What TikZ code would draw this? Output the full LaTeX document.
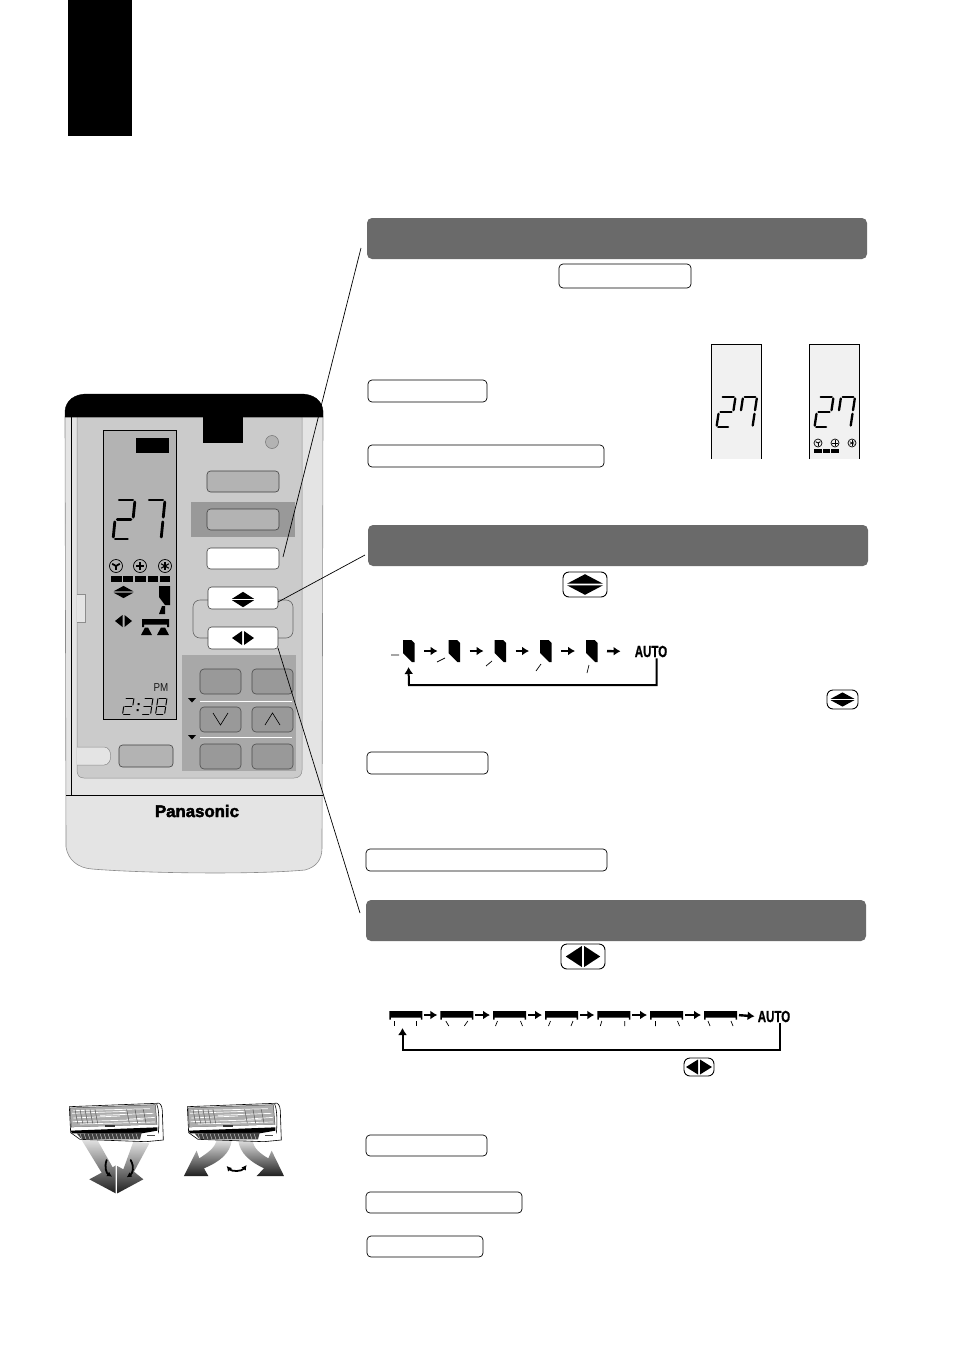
\documentclass[tikz,border=0pt]{standalone}
\usepackage{fontspec}
\usepackage{graphicx}
\setmainfont{Liberation Sans}
\newfontface\heavyf{Liberation Sans Bold}[FakeBold=1.2]
\newfontface\brandf{Liberation Sans Bold}[FakeBold=2.6]
\usetikzlibrary{arrows.meta,calc}
\definecolor{bodyc}{HTML}{E4E4E4}
\definecolor{panelc}{HTML}{CBCBCB}
\definecolor{lcdc}{HTML}{B3B3B3}
\definecolor{hic}{HTML}{999999}
\definecolor{padc}{HTML}{A8A8A8}
\definecolor{barc}{HTML}{6A6A6A}
\definecolor{dispc}{HTML}{F1F1F1}
\tikzset{
  bxbase/.style={inner sep=0pt,outer sep=0pt,rectangle},
  secbar/.style={bxbase,fill=barc,rounded corners=5pt},
  lab/.style={bxbase,fill=white,draw=black,line width=.7pt,rounded corners=4pt},
  iconbtn/.style={bxbase,fill=white,draw=black,line width=.9pt,rounded corners=6pt},
  btngray/.style={bxbase,fill=lcdc,draw=black!75,line width=.6pt,rounded corners=3.5pt},
  btnwhite/.style={bxbase,fill=white,draw=black!75,line width=.6pt,rounded corners=3.5pt},
  btndark/.style={bxbase,fill=hic,draw=black!70,line width=.6pt,rounded corners=4pt},
  leader/.style={draw=black,line width=.7pt},
  flow/.style={draw=black,line width=2.4pt,-{Latex[length=7pt,width=9pt]}},
  ret/.style={draw=black,line width=2pt,-{Latex[length=7pt,width=9pt]}},
  dseg/.style={line width=\digT,line cap=round,draw=black},
  autotxt/.style={inner sep=0pt,font=\heavyf\fontsize{16}{16}\selectfont},
  shadeair/.style={top color=black!12,bottom color=black!88,draw=none},
  swing/.style={black,line width=1.8pt,line cap=round},
}
\newcommand\bx[6]{%
  \pgfmathsetmacro\bxcx{(#3+#5)/2}\pgfmathsetmacro\bxcy{(#4+#6)/2}%
  \pgfmathsetmacro\bxw{#5-#3}\pgfmathsetmacro\bxh{#6-#4}%
  \node[#1,minimum width=\bxw,minimum height=\bxh] (#2) at (\bxcx,\bxcy) {};}
\def\digT{2pt}\def\digW{10}\def\digH{20}
\newcommand\sega{\draw[dseg] ({.12*\digW},0) -- ({.88*\digW},0);}
\newcommand\segb{\draw[dseg] (\digW,{.05*\digH}) -- (\digW,{.44*\digH});}
\newcommand\segc{\draw[dseg] (\digW,{.56*\digH}) -- (\digW,{.95*\digH});}
\newcommand\segd{\draw[dseg] ({.12*\digW},\digH) -- ({.8*\digW},\digH);}
\newcommand\sege{\draw[dseg] (0,{.56*\digH}) -- (0,{.95*\digH});}
\newcommand\segf{\draw[dseg] (0,{.05*\digH}) -- (0,{.44*\digH});}
\newcommand\segg{\draw[dseg] ({.12*\digW},{.5*\digH}) -- ({.88*\digW},{.5*\digH});}
% x y w h slant thick segs
\newcommand\dig[7]{\begin{scope}[shift={(#1,#2)},xslant=#5]\def\digW{#3}\def\digH{#4}\def\digT{#6}#7\end{scope}}
\newcommand\udicon[5]{% cx cy halfw h gap
  \fill (#1-#3,#2-#5) -- (#1+#3,#2-#5) -- (#1,#2-#5-#4) -- cycle;
  \fill (#1-#3,#2+#5) -- (#1+#3,#2+#5) -- (#1,#2+#5+#4) -- cycle;}
\newcommand\lricon[5]{% cx cy halfh w gap
  \fill (#1-#5,#2-#3) -- (#1-#5,#2+#3) -- (#1-#5-#4,#2) -- cycle;
  \fill (#1+#5,#2-#3) -- (#1+#5,#2+#3) -- (#1+#5+#4,#2) -- cycle;}
\newcommand\fanicon[5]{% x y r n bladewidth
  \draw[line width=.7pt] (#1,#2) circle (#3);
  \foreach \a in {1,...,#4}{\draw[line width=#5] (#1,#2) -- ++({90+360*\a/#4}:{.68*#3});}}
\newcommand\vane[3]{% name x y (top-left)
  \node[bxbase,minimum width=11,minimum height=22] (#1) at (#2+5.5,#3+11) {};
  \fill[shift={(#2,#3)}] (0,0) -- (8.5,0) -- (11.5,3) -- (11.5,22) -- (9,22) -- (0,13) -- cycle;}
\newcommand\hvane[7]{% name x y then leg offsets: a1 a2 b1 b2 (top bottom)
  \node[bxbase,minimum width=33,minimum height=8] (#1) at (#2+16.5,#3+4) {};
  \fill[shift={(#2,#3)}] (0,0) rectangle (33,6.5) (0,6.5) rectangle (1.5,8.5) (31.5,6.5) rectangle (33,8.5);
  \draw[shift={(#2,#3)},line width=.7pt] (#4,10) -- (#5,15) (#6,10) -- (#7,15);}
\newcommand\acunit{%
  \filldraw[fill=white,draw=black,line width=.6pt] (28,50) -- (288,40) .. controls (300,36) and (306,45) .. (307,62) -- (310,150) -- (258,155) -- (60,148) -- (32,128) -- cycle;
  \filldraw[fill=black!32,draw=black!70,line width=.5pt] (30,54) -- (286,44) -- (291,104) -- (34,112) -- cycle;
  \foreach \yy/\xa/\xb in {62/40/270,70/36/200,76/120/280,84/40/180,88/200/285,95/38/250,102/60/285}{
    \draw[white,line width=.7pt] (\xa,\yy) -- (\xb,\yy-6);}
  \foreach \xx in {45,60,75,90,105,200,225,250}{\draw[black!65,line width=.5pt] (\xx,58) -- (\xx+8,100);}
  \fill[white] (34,112) -- (291,104) -- (292,112) -- (34,120) -- cycle;
  \fill[black] (32,122) -- (292,112) -- (292,122) -- (245,130) -- (36,130) -- cycle;
  \fill[black!80] (135,106) rectangle (165,110);
  \fill[black!75] (50,130) -- (245,128) -- (240,148) -- (65,148) -- cycle;
  \foreach \xx in {60,72,...,235}{\draw[white,line width=.3pt] (\xx,131) -- (\xx+6,147);}
  \draw[black,line width=.6pt] (290,42) .. controls (298,60) and (298,100) .. (295,130);
  \fill[black!70] (262,136) rectangle (285,139);}
\begin{document}
\begin{tikzpicture}[x=1pt,y=-1pt]
\useasboundingbox (0,0) rectangle (954,1351);
\fill[white] (0,0) rectangle (954,1351);
% tab
\bx{bxbase,fill=black}{tab}{68}{0}{132}{136}
% ---------- remote
\filldraw[fill=bodyc,draw=black!45,line width=.6pt] (65,417) -- (66,847) .. controls (68,860) and (78,868) .. (92,869) .. controls (140,873) and (250,875) .. (305,870) .. controls (316,867) and (322,860) .. (322,848) -- (323,417) -- cycle;
\filldraw[fill=panelc,draw=black!45,line width=.5pt] (77,417) -- (77,770) .. controls (77,775) and (79,778) .. (84,778) -- (294,778) .. controls (299,778) and (302,775) .. (302,770) -- (302,417) -- cycle;
\filldraw[fill=black] (65,417) -- (65,411) .. controls (66,400) and (75,394) .. (87,394) -- (301,394) .. controls (313,394) and (322,400) .. (323,411) -- (323,417) -- cycle;
\draw[black,line width=.8pt] (71.5,417) -- (71.5,795);
\draw[black,line width=.8pt] (66,795) -- (323,795);
\filldraw[fill=bodyc,draw=black!45,line width=.5pt] (77,594) -- (85,594) -- (85,622) -- (77,622);
\filldraw[fill=bodyc,draw=black!45,line width=.5pt] (77,747) -- (104,747) .. controls (113,747) and (113,765) .. (104,765) -- (77,765);
\bx{bxbase,fill=black}{notch}{203}{417}{243}{443}
\filldraw[fill=lcdc,draw=black!55,line width=.5pt] (272,442) circle (6.5);
% LCD
\bx{bxbase,fill=lcdc,draw=black,line width=.8pt}{lcd}{103.5}{430}{176.5}{719}
\bx{bxbase,fill=black}{lcdtag}{136}{438}{169}{453}
\dig{117}{500}{18}{39}{0.1}{2.8pt}{\sega\segb\segg\sege\segd}
\dig{147}{500}{18}{39}{0.1}{2.8pt}{\sega\segb\segc}
\fanicon{116}{566}{6.5}{3}{1.8pt}
\fanicon{140}{566}{6.5}{4}{1.3pt}
\fanicon{165}{566}{6.5}{6}{1.1pt}
\foreach \xa/\xb in {111/122,123/133,135/146,148/158,160/170}{\fill (\xa,576) rectangle (\xb,582);}
\udicon{123.5}{592}{10}{5.5}{.6}
\lricon{123.5}{621}{6}{7.5}{1}
\fill (159,586) -- (170,586) -- (170,605) -- (165,605) -- (159,597) -- cycle;
\fill (159,614) -- (162,606) -- (165,606) -- (165,614) -- cycle;
\fill (142,619) -- (169,619) -- (169,627) -- (167,627) -- (167,624.5) -- (144,624.5) -- (144,627) -- (142,627) -- cycle;
\fill (141,635) -- (152,635) -- (148,627.5) -- (145,627.5) -- cycle;
\fill (157,635) -- (169,635) -- (165,627.5) -- (161,627.5) -- cycle;
\node[inner sep=0pt,font=\fontsize{11.5}{11.5}\selectfont,text=black!90] (pm) at (161,688) {\scalebox{.85}[1]{PM}};
\dig{125}{698}{9}{16}{0.15}{1pt}{\sega\segb\segg\sege\segd}
\fill (137.5,703) rectangle (139.5,705) (136.5,709) rectangle (138.5,711);
\dig{144}{698}{9}{16}{0.15}{1pt}{\sega\segb\segg\segc\segd}
\dig{158}{698}{9}{16}{0.15}{1pt}{\sega\segb\segg\segc\segd\sege\segf}
% buttons
\bx{btngray}{bA}{207}{471}{279}{492}
\bx{bxbase,fill=hic}{bHi}{191}{502}{295}{537}
\bx{btngray}{bB}{207}{509}{279}{530}
\bx{btnwhite}{bC}{207}{548}{279}{569}
\bx{bxbase,draw=black!60,line width=.6pt,rounded corners=7pt}{bGroup}{193}{600}{293}{638}
\bx{btnwhite}{bD}{208}{587}{278}{609}
\bx{btnwhite}{bE}{208}{627}{278}{649}
\udicon{243}{599.5}{11}{7}{.7}
\lricon{243}{638}{7}{10}{1}
% pad
\bx{bxbase,fill=padc}{pad}{182}{655}{296}{771}
\bx{btndark}{p1}{200}{669}{241}{694}
\bx{btndark}{p2}{252}{669}{293}{694}
\bx{btndark}{p3}{200}{707}{241}{732}
\bx{btndark}{p4}{252}{707}{293}{732}
\bx{btndark}{p5}{200}{744}{241}{769}
\bx{btndark}{p6}{252}{744}{293}{769}
\bx{btngray}{p7}{119}{745}{173}{767}
\draw[white,line width=1pt] (200,701) -- (292,701) (200,737) -- (292,737);
\fill (188,698) -- (196,698) -- (192,702.5) -- cycle;
\fill (188,735) -- (196,735) -- (192,739.5) -- cycle;
\draw[line width=.6pt] (213,713) -- (220.5,725) -- (228,713);
\draw[line width=.6pt] (265,725) -- (272.5,713) -- (280,725);
\node[inner sep=0pt,font=\brandf\fontsize{16.8}{16.8}\selectfont] (brand) at (197,811) {Panasonic};
% ---------- section bars
\bx{secbar}{bar1}{367}{218}{867}{259}
\bx{secbar}{bar2}{368}{525}{868}{566}
\bx{secbar}{bar3}{366}{900}{866}{941}
% labels
\bx{lab}{l1}{559}{264}{691}{288}
\bx{lab}{l2}{368}{380}{487}{402}
\bx{lab}{l3}{368}{445}{604}{467}
\bx{lab}{l4}{367}{752}{488}{774}
\bx{lab}{l5}{366}{849}{607}{871}
\bx{lab}{l6}{366}{1135}{487}{1156}
\bx{lab}{l7}{366}{1192}{522}{1213}
\bx{lab}{l8}{367}{1236}{483}{1257}
% icon buttons
\bx{iconbtn}{ib1}{563}{572}{607}{597}
\udicon{585}{584.5}{18}{9.5}{.8}
\bx{iconbtn}{ib2}{827}{690}{858}{709}
\udicon{842.5}{699.5}{12}{6.5}{.6}
\bx{iconbtn}{ib3}{561}{944}{605}{969}
\lricon{583}{956.5}{10.5}{16}{1.2}
\bx{iconbtn}{ib4}{684}{1058}{714}{1076}
\lricon{699}{1067}{7.5}{12}{1}
% displays
\foreach \dx in {0,98}{
  \fill[dispc] (711.5+\dx,344.5) rectangle (761.5+\dx,459);
  \draw[black,line width=1.5pt] (711.5+\dx,459) -- (711.5+\dx,344.5) -- (761.5+\dx,344.5) -- (761.5+\dx,459);
  \dig{721+\dx}{397}{14.5}{30}{0.15}{2.3pt}{\sega\segb\segg\sege\segd}
  \dig{743+\dx}{397}{14}{30}{0.15}{2.3pt}{\sega\segb\segc\segf}
}
\fanicon{818}{443}{4}{3}{.9pt}
\fanicon{835}{443}{4}{4}{.7pt}
\fanicon{852}{443}{4}{6}{.6pt}
\foreach \xa/\xb in {814/822,823/830,831/839}{\fill (\xa,449) rectangle (\xb,453);}
% vertical vanes
\vane{v1}{403}{640}
\vane{v2}{448.5}{640}
\vane{v3}{494.5}{640}
\vane{v4}{540}{640}
\vane{v5}{586}{640}
\node[autotxt] (auto1) at (651,651.5) {\scalebox{.72}[1]{AUTO}};
\draw[flow,shorten >=11pt,shorten <=10pt] (v1.east) -- (v2.west);
\draw[flow,shorten >=11pt,shorten <=10pt] (v2.east) -- (v3.west);
\draw[flow,shorten >=11pt,shorten <=10pt] (v3.east) -- (v4.west);
\draw[flow,shorten >=11pt,shorten <=10pt] (v4.east) -- (v5.west);
\draw[flow,shorten >=14pt,shorten <=10pt] (v5.east) -- (auto1.west);
\draw[line width=.7pt] (391,655) -- (399,655) (437,662) -- (445,658) (486,666) -- (492,661) (536,671) -- (541,664) (587,673) -- (589,665);
\coordinate (r1b) at (409,685);
\draw[ret] ([xshift=5.5pt,yshift=-1pt]auto1.south) |- (r1b) -- ([yshift=-5pt]v1.south);
% horizontal vanes
\hvane{h1}{389.3}{1011}{4.7}{4.7}{27.3}{27.3}
\hvane{h2}{440.3}{1011}{5.5}{8.5}{27.5}{24}
\hvane{h3}{493}{1011}{4.5}{2.5}{27.5}{29.5}
\hvane{h4}{545}{1011}{5.5}{3.5}{28}{26}
\hvane{h5}{597.3}{1011}{4.5}{3}{27.5}{27.5}
\hvane{h6}{650}{1011}{5.5}{5.5}{27.5}{29.5}
\hvane{h7}{704}{1011}{4}{6}{27}{29}
\node[autotxt] (auto2) at (774,1016.5) {\scalebox{.72}[1]{AUTO}};
\draw[flow,shorten >=3pt,shorten <=2pt] (h1.east) -- (h2.west);
\draw[flow,shorten >=3pt,shorten <=2pt] (h2.east) -- (h3.west);
\draw[flow,shorten >=3pt,shorten <=2pt] (h3.east) -- (h4.west);
\draw[flow,shorten >=3pt,shorten <=2pt] (h4.east) -- (h5.west);
\draw[flow,shorten >=3pt,shorten <=2pt] (h5.east) -- (h6.west);
\draw[flow,shorten >=3pt,shorten <=2pt] (h6.east) -- (h7.west);
\draw[flow,shorten >=3pt,shorten <=2pt] (h7.east) -- (auto2.west);
\coordinate (r2b) at (402.5,1050);
\draw[ret] ([xshift=6pt,yshift=-1pt]auto2.south) |- (r2b) -- ([xshift=-3.3pt,yshift=-9pt]h1.south);
% leaders
\coordinate (c1) at (361,248);
\coordinate (c2) at (365,555);
\coordinate (c3) at (360,913);
\coordinate (b1) at (283,557);
\coordinate (b2) at (278,602);
\coordinate (b3) at (278,648);
\draw[leader] (c1) -- (b1);
\draw[leader] (c2) -- (b2);
\draw[leader] (c3) -- (b3);
% ---------- air conditioners
\begin{scope}[shift={(60,1090)},x=.3333pt,y=-.3333pt]
  \shade[shadeair]
    (65,150) -- (112,150) -- (158,232) -- (167,226) -- (167,310) -- (88,268) -- (125,248) -- cycle;
  \shade[shadeair]
    (220,155) -- (268,160) -- (222,245) -- (250,268) -- (172,310) -- (172,228) -- (190,238) -- cycle;
  \draw[swing,-{Latex[length=5pt,width=5.5pt]}] (140,210) .. controls (132,232) and (140,250) .. (156,260);
  \draw[swing,-{Latex[length=5pt,width=5.5pt]}] (212,210) .. controls (224,232) and (218,250) .. (200,262);
  \acunit
  \shade[shadeair]
    (470,150) .. controls (465,175) and (440,190) .. (418,205) -- (410,182) -- (372,258) -- (445,258) -- (432,235) .. controls (480,215) and (510,190) .. (515,152) -- cycle;
  \shade[shadeair]
    (535,152) .. controls (540,190) and (570,215) .. (612,235) -- (590,258) -- (672,258) -- (635,182) -- (625,205) .. controls (600,190) and (580,175) .. (578,150) -- cycle;
  \draw[swing,{Latex[length=5pt,width=5.5pt]}-{Latex[length=5pt,width=5.5pt]}] (500,228) .. controls (515,245) and (545,245) .. (560,225);
  \begin{scope}[shift={(354,0)}]\acunit\end{scope}
\end{scope}
\end{tikzpicture}
\end{document}
